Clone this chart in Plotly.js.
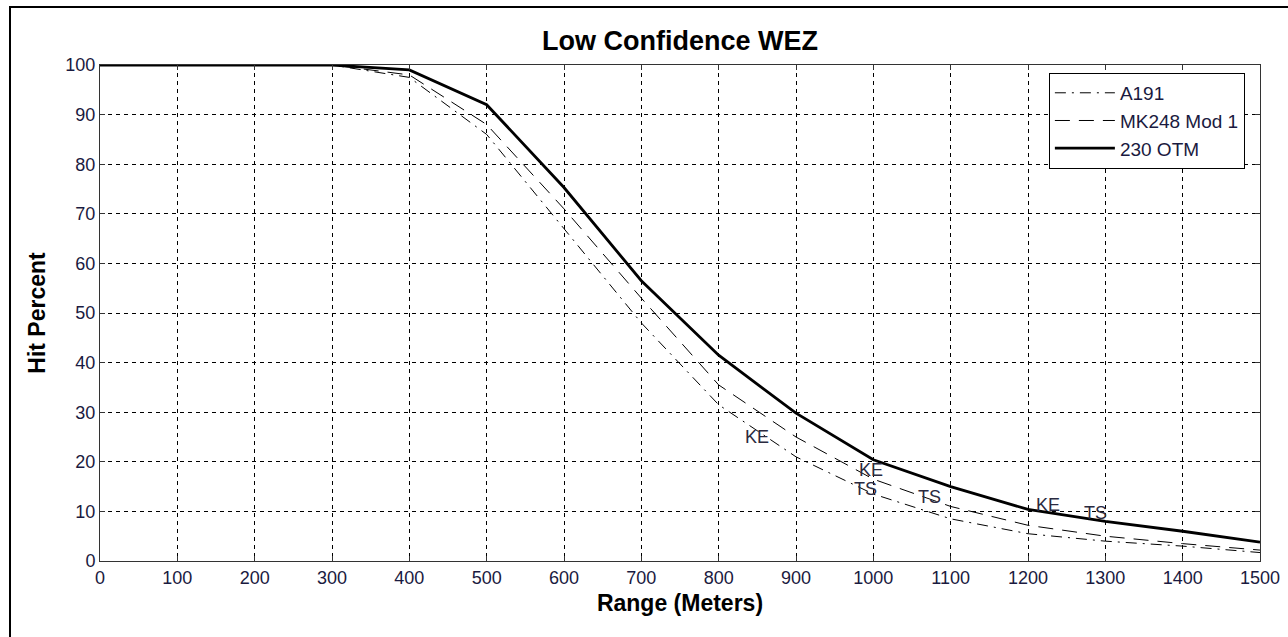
<!DOCTYPE html>
<html>
<head>
<meta charset="utf-8">
<script src="https://cdn.plot.ly/plotly-3.0.1.min.js"></script>
<style>
html,body{margin:0;padding:0;background:#fff;}
#frame{position:absolute;left:9px;top:6px;width:1300px;height:700px;border:2px solid #000;box-sizing:border-box;pointer-events:none;z-index:5;}
#chart{width:1288px;height:637px;}
</style>
</head>
<body>
<div id="frame"></div>
<div id="chart"></div>
<script>
const rangeM = [0, 100, 200, 300, 400, 500, 600, 700, 800, 900, 1000, 1100, 1200, 1300, 1400, 1500];
const a191 = [100, 100, 100, 100, 97.5, 86, 67, 48, 31.5, 21, 13.5, 8.5, 5.5, 4, 3, 1.7];
const mk248 = [100, 100, 100, 100, 98, 88, 71, 53, 35.5, 25, 16.5, 11, 7.2, 5, 3.5, 2.2];
const otm230 = [100, 100, 100, 100, 99, 92, 75.3, 56.5, 41.5, 29.8, 20.4, 15, 10.4, 8, 6, 3.8];
const labelText = ["KE", "KE", "TS", "TS", "KE", "TS"];
const labelX = [850, 997, 990, 1073, 1226, 1287];
const labelY = [25, 18.3, 14.5, 13.0, 11.2, 9.6];

const FONT = "Arial, 'Liberation Sans', sans-serif";

const traces = [
  {x: rangeM, y: a191, name: "A191", mode: "lines", line: {color: "#000", width: 1, dash: "11px,6px,2px,6px"}},
  {x: rangeM, y: mk248, name: "MK248 Mod 1", mode: "lines", line: {color: "#000", width: 1, dash: "15px,9px"}},
  {x: rangeM, y: otm230, name: "230 OTM", mode: "lines", line: {color: "#000", width: 2.8}}
];

const annotations = labelText.map((t, i) => ({
  x: labelX[i], y: labelY[i], text: t, showarrow: false,
  font: {family: FONT, size: 18, color: "#2a2a40"}
}));

const axisCommon = {
  showline: true, linecolor: "#333", linewidth: 1, mirror: "ticks",
  ticks: "inside", ticklen: 5, tickcolor: "#333",
  showgrid: true, gridcolor: "#000", griddash: "4px,4px", gridwidth: 1,
  zeroline: false, tickfont: {family: FONT, size: 18, color: "#1a1a40"}
};

const layout = {
  width: 1288, height: 637,
  margin: {l: 100, r: 28, t: 65, b: 76},
  paper_bgcolor: "#fff", plot_bgcolor: "#fff",
  font: {family: FONT},
  title: {text: "<b>Low Confidence WEZ</b>", x: 0.528, xanchor: "center", y: 0.937, yanchor: "middle",
          font: {family: FONT, size: 27, color: "#000"}},
  xaxis: Object.assign({}, axisCommon, {
    range: [0, 1500], dtick: 100, tick0: 0,
    title: {text: "<b>Range (Meters)</b>", font: {family: FONT, size: 23, color: "#000"}, standoff: 8}
  }),
  yaxis: Object.assign({}, axisCommon, {
    range: [0, 100], dtick: 10, tick0: 0,
    title: {text: "<b>Hit Percent</b>", font: {family: FONT, size: 23, color: "#000"}, standoff: 13}
  }),
  legend: {x: 0.818, y: 0.984, xanchor: "left", yanchor: "top", bgcolor: "#fff",
           bordercolor: "#000", borderwidth: 1, itemwidth: 60, tracegroupgap: 0,
           font: {family: FONT, size: 19, color: "#1a1a40"}},
  annotations: annotations,
  showlegend: true
};

Plotly.newPlot("chart", traces, layout, {displayModeBar: false, staticPlot: true});
</script>
</body>
</html>
